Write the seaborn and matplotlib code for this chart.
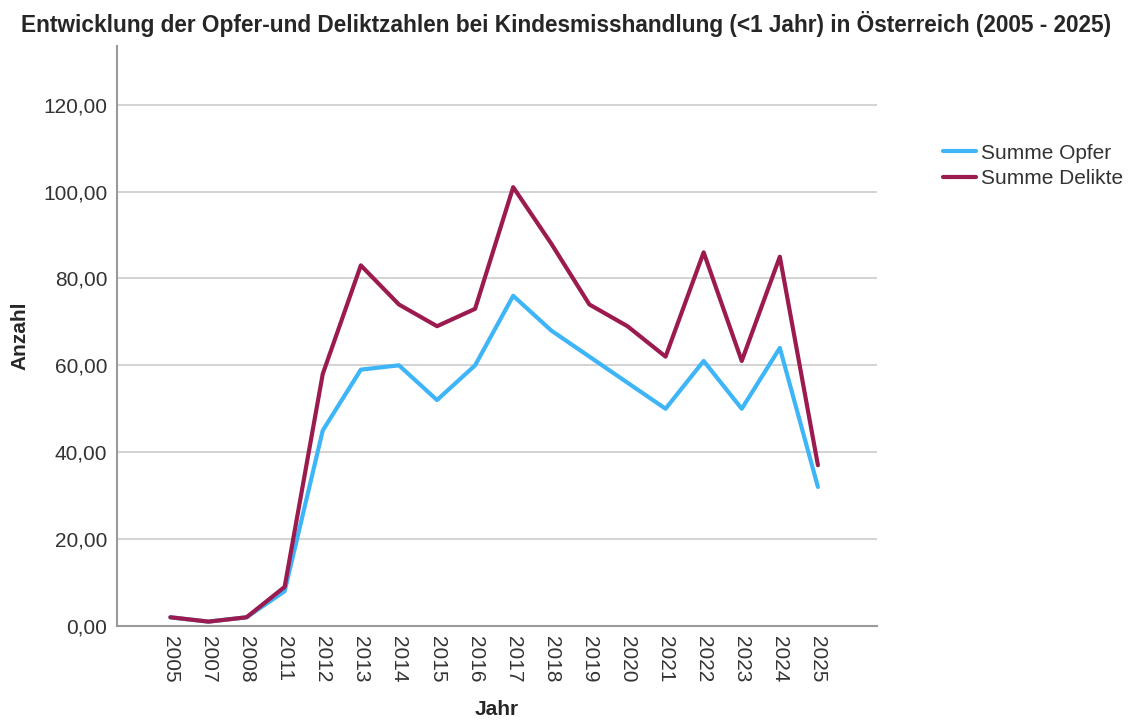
import pandas as pd
import matplotlib
matplotlib.use('Agg')
import matplotlib.pyplot as plt
import seaborn as sns

jahre = ['2005', '2007', '2008', '2011', '2012', '2013', '2014', '2015', '2016',
         '2017', '2018', '2019', '2020', '2021', '2022', '2023', '2024', '2025']
opfer = [2, 1, 2, 8, 45, 59, 60, 52, 60, 76, 68, 62, 56, 50, 61, 50, 64, 32]
delikte = [2, 1, 2, 9, 58, 83, 74, 69, 73, 101, 88, 74, 69, 62, 86, 61, 85, 37]

df = pd.DataFrame({'Jahr': jahre * 2,
                   'Anzahl': opfer + delikte,
                   'Serie': ['Summe Opfer'] * len(jahre) + ['Summe Delikte'] * len(jahre)})

sns.set_style('white')
plt.rcParams['font.family'] = ['Liberation Sans', 'DejaVu Sans']

fig = plt.figure(figsize=(11.32, 7.22), dpi=100)
ax = fig.add_axes([0.1034, 0.133, 0.6713, 0.8033])

farben = {'Summe Opfer': '#3db5f7', 'Summe Delikte': '#9c1b4f'}
sns.lineplot(data=df, x='Jahr', y='Anzahl', hue='Serie', palette=farben,
             linewidth=3, ax=ax, sort=False)

ax.set_xlim(-1.4, 18.55)
ax.set_ylim(0, 133.5)
ax.set_yticks(range(0, 121, 20))
ax.set_yticklabels([f'{v},00' for v in range(0, 121, 20)], fontsize=15, color='#333333')
ax.tick_params(axis='x', labelrotation=270, labelsize=15, labelcolor='#333333')
ax.tick_params(length=0, pad=7)
ax.grid(axis='y', color='#cccccc', linewidth=1.2)
ax.set_axisbelow(True)

for s in ['top', 'right']:
    ax.spines[s].set_visible(False)
for s in ['left', 'bottom']:
    ax.spines[s].set_color('#9a9a9a')
    ax.spines[s].set_linewidth(1.5)

ax.set_xlabel('Jahr', fontsize=15, fontweight='bold', labelpad=13)
ax.set_ylabel('Anzahl', fontsize=15, fontweight='bold', labelpad=10)

fig.suptitle('Entwicklung der Opfer-und Deliktzahlen bei Kindesmisshandlung (<1 Jahr) in Österreich (2005 - 2025)',
             x=0.5, y=0.985, fontsize=16.3, fontweight='bold')

leg = ax.legend(loc='upper left', bbox_to_anchor=(1.062, 0.864), frameon=False,
                fontsize=15, handlelength=1.6, handletextpad=0.25, labelspacing=0.3)
for t in leg.get_texts():
    t.set_color('#333333')

fig.savefig('out.png', dpi=100)
